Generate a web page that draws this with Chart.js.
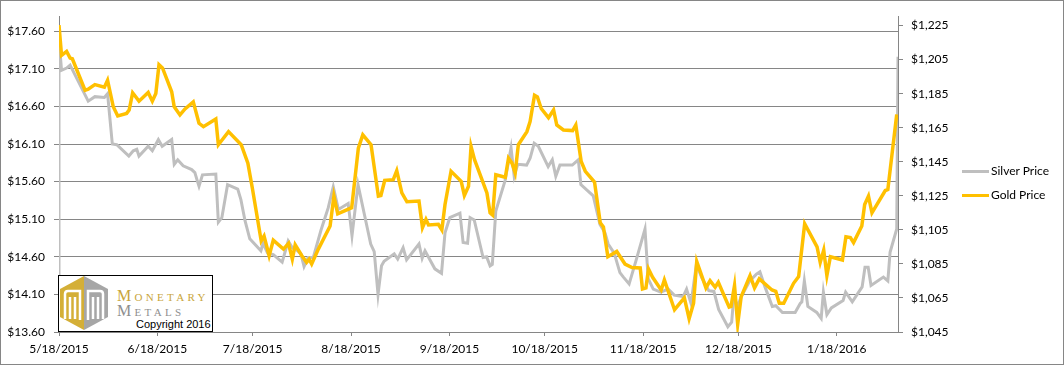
<!DOCTYPE html>
<html>
<head>
<meta charset="utf-8">
<script src="https://cdn.jsdelivr.net/npm/chart.js@4.4.1/dist/chart.umd.min.js"></script>
<style>
  body { margin: 0; background: #fff; }
  #wrap { position: relative; width: 1064px; height: 365px; font-family: Lato, sans-serif; }
  #metalsChart { position: absolute; left: 0; top: 0; }
  .leg { position: absolute; left: 962px; height: 16px; font-size: 12px; color: #000; white-space: nowrap; }
  .leg i { display: inline-block; width: 27px; height: 3px; vertical-align: middle; margin-right: 2px; }
  #logo { position: absolute; left: 58px; top: 275px; width: 153px; height: 55px; border: 1px solid #000; background: #fff; }
  #logo svg { position: absolute; left: 0; top: 0; }
  .mm { position: absolute; left: 58px; font-family: "Liberation Serif", serif; font-variant: small-caps; font-size: 16px; letter-spacing: 3.3px; line-height: 16px; white-space: nowrap; }
  #mm1 { top: 12px; color: #c9a53c; }
  #mm2 { top: 27px; color: #8f8f8f; }
  #copy { position: absolute; left: 77px; top: 42px; font-family: "Liberation Sans", Arial, sans-serif; font-size: 11px; color: #000; line-height: 12px; white-space: nowrap; }
</style>
</head>
<body>
<div id="wrap">
  <canvas id="metalsChart" width="1064" height="365"></canvas>
  <div class="leg" style="top:163px"><i style="background:#bfbfbf"></i>Silver Price</div>
  <div class="leg" style="top:187px"><i style="background:#ffc000"></i>Gold Price</div>
  <div id="logo">
    <svg width="50" height="55" viewBox="0 0 50 55">
      <polygon points="25,0 1,13 1,41 25,54" fill="#d4af37"/>
      <polygon points="25,0 49,13 49,41 25,54" fill="#a6a6a6"/>
      <path d="M6,43 V18 Q6,15 9,15 H21 V44 M11,43 V21 M16,43 V21" stroke="#fff" stroke-width="2.5" fill="none"/>
      <path d="M29,44 V15 H41 Q44,15 44,18 V43 M34,43 V21 M39,43 V21" stroke="#fff" stroke-width="2.5" fill="none"/>
    </svg>
    <div class="mm" id="mm1">Monetary</div>
    <div class="mm" id="mm2">Metals</div>
    <div id="copy">Copyright 2016</div>
  </div>
</div>
<script>
// days after 5/18/2015
const dateTicks = [0, 31, 61, 92, 123, 153, 184, 214, 245];
const dateLabels = ['5/18/2015', '6/18/2015', '7/18/2015', '8/18/2015', '9/18/2015',
  '10/18/2015', '11/18/2015', '12/18/2015', '1/18/2016'];

const silverTicks = [13.6, 14.1, 14.6, 15.1, 15.6, 16.1, 16.6, 17.1, 17.6];
const goldTicks = [1045, 1065, 1085, 1105, 1125, 1145, 1165, 1185, 1205, 1225];

const silverDays = [0, 0, 0.8, 2.4, 3.5, 9.2, 11.3, 14.3, 15.3, 16.8,
  18.2, 22.0, 23.4, 24.5, 25.2, 28.1, 29.4, 31.3, 32.5, 35.5,
  36.3, 37.4, 39.1, 41.8, 42.8, 43.5, 44.1, 45.2, 49.4, 50.2,
  51.3, 53.1, 56.3, 57.3, 58.6, 60.1, 63.6, 64.3, 65.7, 67.5,
  70.3, 72.2, 73.5, 74.9, 76.2, 77.2, 78.5, 80.1, 82.5, 84.8,
  86.4, 88.0, 91.1, 92.3, 94.2, 98.2, 99.3, 100.5, 101.6, 102.4,
  105.6, 106.7, 108.4, 109.5, 113.4, 114.4, 115.3, 118.4, 120.5, 121.6,
  123.1, 126.3, 127.3, 128.7, 129.5, 130.8, 133.6, 134.7, 135.8, 136.5,
  137.6, 140.5, 142.4, 143.4, 144.5, 147.3, 148.4, 149.7, 151.0, 154.1,
  155.4, 156.5, 157.8, 161.7, 163.6, 164.4, 168.3, 170.4, 172.0, 173.0,
  174.9, 176.7, 177.8, 179.6, 181.7, 184.6, 185.6, 187.2, 189.6, 191.9,
  193.8, 196.6, 197.7, 199.1, 200.8, 202.4, 204.7, 206.3, 207.8, 210.7,
  211.9, 212.6, 213.7, 214.9, 217.6, 219.7, 220.8, 222.4, 224.7, 225.8,
  227.9, 231.9, 233.5, 234.0, 234.8, 235.9, 238.7, 240.1, 240.8, 241.9,
  243.3, 247.0, 247.8, 249.9, 253.0, 253.9, 254.9, 255.8, 259.7, 261.1,
  261.8, 263.9, 264.3];
const silverPrices = [13.60, 17.50, 17.08, 17.11, 17.15, 16.67, 16.73, 16.72, 16.77, 16.10,
  16.09, 15.94, 16.01, 16.03, 15.94, 16.07, 16.01, 16.16, 16.07, 16.16,
  15.83, 15.89, 15.81, 15.76, 15.72, 15.62, 15.54, 15.69, 15.70, 15.06,
  15.12, 15.56, 15.50, 15.36, 15.08, 14.84, 14.68, 14.78, 14.65, 14.63,
  14.53, 14.81, 14.72, 14.69, 14.64, 14.47, 14.59, 14.59, 14.95, 15.25,
  15.53, 15.23, 15.31, 14.88, 15.56, 14.77, 14.67, 14.10, 14.48, 14.54,
  14.64, 14.57, 14.72, 14.56, 14.77, 14.58, 14.68, 14.44, 14.38, 14.92,
  15.12, 15.18, 14.79, 14.78, 15.12, 15.09, 14.59, 14.60, 14.48, 14.50,
  15.21, 15.61, 16.05, 15.67, 15.83, 15.82, 15.91, 16.11, 16.07, 15.80,
  15.89, 15.67, 15.82, 15.82, 15.89, 15.56, 15.41, 15.03, 14.92, 14.77,
  14.65, 14.39, 14.33, 14.24, 14.54, 14.97, 14.31, 14.17, 14.13, 14.17,
  14.09, 14.07, 14.17, 13.98, 14.50, 14.33, 14.15, 14.14, 13.90, 13.67,
  13.73, 14.09, 13.93, 14.07, 14.28, 14.37, 14.40, 14.20, 13.94, 13.95,
  13.86, 13.86, 13.98, 14.00, 14.28, 13.94, 13.86, 13.78, 14.13, 13.83,
  13.92, 14.02, 14.13, 14.00, 14.20, 14.46, 14.46, 14.22, 14.33, 14.28,
  14.66, 14.97, 17.26];

const goldDays = [0, 0.8, 2.4, 3.5, 4.2, 8.2, 9.2, 11.3, 14.3, 15.3,
  17.1, 18.5, 21.3, 22.1, 23.2, 25.2, 28.1, 29.4, 30.5, 31.5,
  32.6, 35.5, 36.3, 38.1, 39.7, 42.3, 44.1, 45.5, 49.4, 50.2,
  53.4, 57.4, 59.5, 60.9, 63.7, 64.6, 66.2, 67.5, 70.7, 72.3,
  73.5, 74.4, 76.5, 78.0, 78.8, 79.6, 81.7, 85.4, 86.6, 87.8,
  92.2, 94.3, 95.7, 98.3, 100.6, 101.4, 102.6, 105.3, 106.4, 108.0,
  109.6, 113.4, 114.5, 115.6, 116.4, 119.5, 120.6, 121.6, 123.5, 126.7,
  127.7, 129.0, 129.8, 130.9, 134.8, 135.8, 136.6, 137.6, 140.6, 141.6, 142.7,
  143.7, 144.7, 147.4, 148.4, 149.8, 150.7, 151.9, 154.2, 155.8, 156.8,
  158.9, 161.8, 162.8, 164.5, 165.8, 168.7, 170.5, 171.5, 172.9, 175.7,
  178.3, 180.5, 183.1, 183.8, 184.9, 185.7, 187.0, 189.7, 190.7, 193.9,
  197.0, 198.5, 199.9, 200.9, 203.8, 205.1, 206.7, 207.7, 211.1, 211.7,
  212.8, 213.8, 214.9, 217.7, 219.1, 220.6, 224.6, 225.8, 226.9, 228.3,
  231.4, 233.0, 234.9, 236.1, 238.8, 239.8, 240.9, 241.9, 243.0, 246.8,
  247.9, 249.3, 250.3, 252.9, 253.8, 255.0, 256.1, 260.3, 261.1, 263.9];
const goldPrices = [1225.3, 1207.5, 1209.8, 1205.9, 1205.5, 1187.0, 1187.6, 1190.3, 1188.8, 1192.9,
  1177.3, 1171.9, 1173.4, 1175.4, 1185.5, 1180.6, 1185.7, 1180.6, 1185.1, 1202.0,
  1200.1, 1186.1, 1177.3, 1172.5, 1176.0, 1180.2, 1167.6, 1165.6, 1170.1, 1155.0,
  1162.7, 1155.0, 1144.2, 1129.6, 1098.5, 1101.4, 1089.8, 1098.9, 1093.7, 1097.0,
  1087.8, 1096.2, 1089.8, 1085.9, 1087.8, 1084.9, 1093.7, 1107.3, 1124.8, 1114.4,
  1118.0, 1153.0, 1160.8, 1155.0, 1124.8, 1125.2, 1134.0, 1134.5, 1139.8, 1126.7,
  1121.5, 1121.9, 1106.3, 1111.2, 1107.9, 1108.3, 1105.0, 1119.9, 1139.4, 1133.5,
  1125.2, 1130.6, 1154.0, 1146.2, 1126.7, 1115.0, 1113.7, 1137.4, 1135.9, 1147.1, 1144.2,
  1138.4, 1155.0, 1162.7, 1168.6, 1184.1, 1183.1, 1176.3, 1170.9, 1175.4, 1166.6,
  1163.7, 1163.3, 1166.6, 1145.2, 1139.4, 1133.1, 1109.2, 1106.7, 1089.2, 1092.3,
  1084.9, 1082.9, 1082.6, 1070.3, 1070.9, 1082.0, 1077.1, 1069.7, 1075.6, 1058.1,
  1065.1, 1052.8, 1061.9, 1086.4, 1070.9, 1075.2, 1071.3, 1074.2, 1059.6, 1060.0,
  1072.3, 1049.5, 1065.8, 1078.1, 1070.9, 1076.2, 1069.7, 1068.9, 1061.9, 1061.9,
  1073.6, 1077.5, 1108.6, 1104.4, 1095.0, 1085.9, 1093.1, 1078.1, 1089.2, 1087.3,
  1100.9, 1100.5, 1097.5, 1107.3, 1119.9, 1124.8, 1115.0, 1128.1, 1128.7, 1172.8];

const axisGray = '#868686';

Chart.defaults.font.family = 'Lato';
Chart.defaults.font.size = 12;
Chart.defaults.color = '#000';

const outerBorder = {
  id: 'outerBorder',
  afterDraw(chart) {
    const c = chart.ctx;
    c.save();
    c.strokeStyle = axisGray;
    c.lineWidth = 1;
    c.strokeRect(0.5, 0.5, chart.width - 1, chart.height - 1);
    c.restore();
  }
};

const ctx = document.getElementById('metalsChart').getContext('2d');
const chart = new Chart(ctx, {
  type: 'line',
  data: {
    datasets: [{
      label: 'Silver Price',
      data: silverDays.map((d, i) => ({ x: d, y: silverPrices[i] })),
      borderColor: '#bfbfbf',
      borderWidth: 3,
      pointRadius: 0,
      tension: 0,
      yAxisID: 'y',
      order: 1
    }, {
      label: 'Gold Price',
      data: goldDays.map((d, i) => ({ x: d, y: goldPrices[i] })),
      borderColor: '#ffc000',
      borderWidth: 3.5,
      pointRadius: 0,
      tension: 0,
      yAxisID: 'y1',
      order: 0
    }]
  },
  options: {
    responsive: false,
    animation: false,
    layout: { padding: { top: 14, left: 0, right: 0, bottom: 0 } },
    plugins: { legend: { display: false }, tooltip: { enabled: false } },
    scales: {
      x: {
        type: 'linear',
        min: 0,
        max: 264.3,
        afterBuildTicks: s => { s.ticks = dateTicks.map(v => ({ value: v })); },
        afterFit: s => { s.height = 33; },
        ticks: { autoSkip: false, maxRotation: 0, padding: 6, callback: (v, i) => dateLabels[i] },
        grid: { drawOnChartArea: false, tickLength: 4, color: axisGray },
        border: { color: axisGray }
      },
      y: {
        position: 'left',
        min: 13.6,
        max: 17.8,
        afterBuildTicks: s => { s.ticks = silverTicks.map(v => ({ value: v })); },
        afterFit: s => { s.width = 59; },
        ticks: { padding: 9, callback: v => '$' + v.toFixed(2) },
        grid: { color: axisGray, tickLength: 5 },
        border: { color: axisGray }
      },
      y1: {
        position: 'right',
        min: 1045,
        max: 1230.5,
        afterBuildTicks: s => { s.ticks = goldTicks.map(v => ({ value: v })); },
        afterFit: s => { s.width = 166; },
        ticks: { padding: 8, callback: v => '$' + v.toLocaleString('en-US') },
        grid: { drawOnChartArea: false, color: axisGray, tickLength: 5 },
        border: { color: axisGray }
      }
    }
  },
  plugins: [outerBorder]
});
</script>
</body>
</html>
